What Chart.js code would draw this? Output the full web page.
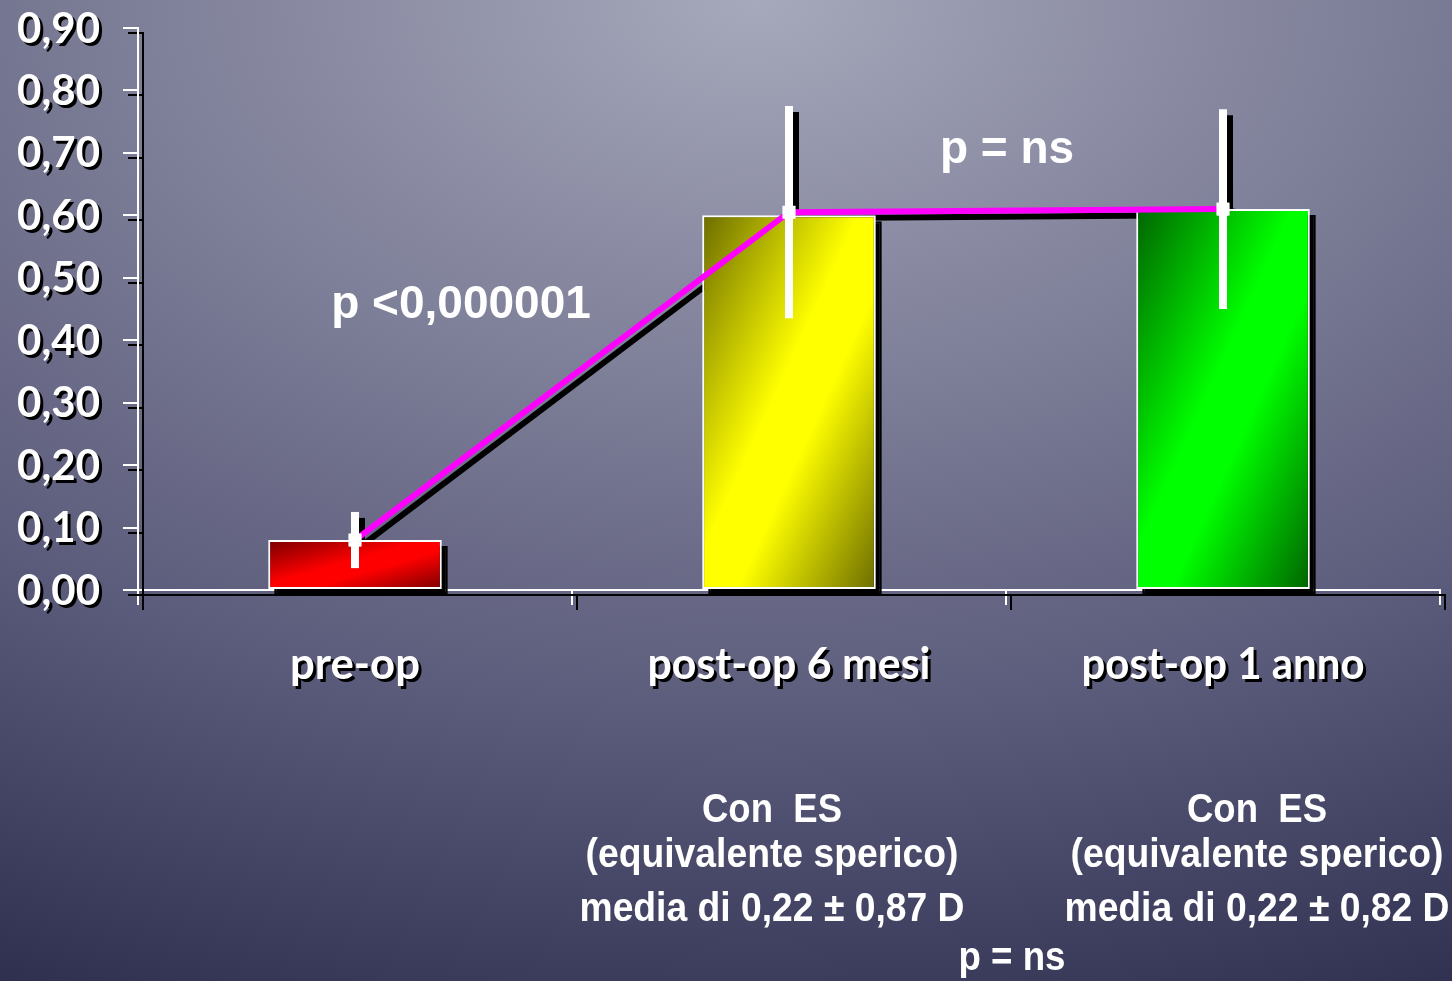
<!DOCTYPE html>
<html>
<head>
<meta charset="utf-8">
<title>Equivalente sferico</title>
<script src="https://cdn.jsdelivr.net/npm/chart.js@4.4.1/dist/chart.umd.min.js"></script>
<style>
  html, body {
    margin: 0;
    padding: 0;
    width: 1452px;
    height: 981px;
    overflow: hidden;
    background: radial-gradient(ellipse 125% 115% at 52% 0%, #a6a8bb 0%, #7f8099 33%, #5c5c7c 63%, #2a2a4a 100%);
  }
  #chart { display: block; }
</style>
</head>
<body>
<canvas id="chart" width="1452" height="981"></canvas>
<script>
// data
const categories = ['pre-op', 'post-op 6 mesi', 'post-op 1 anno'];
const barValues = [0.08, 0.60, 0.61];
const lineValues = [0.08, 0.605, 0.61];
const errValues = [0.045, 0.17, 0.16];
const yTicks = [0, 0.1, 0.2, 0.3, 0.4, 0.5, 0.6, 0.7, 0.8, 0.9];

const barDark = ['#780000', '#6c6c00', '#006400'];
const barBright = ['#ff0000', '#ffff00', '#00ff00'];

const notes = [
    { text: 'p <0,000001', x: 461, y: 318 },
    { text: 'p = ns', x: 1007, y: 163 }
];
const footLeft = ['Con  ES', '(equivalente sperico)', 'media di 0,22 \u00b1 0,87 D'];
const footRight = ['Con  ES', '(equivalente sperico)', 'media di 0,22 \u00b1 0,82 D'];
const footBottom = 'p = ns';

const BAR_PCT = 0.4;
const SHADOW = 6;

// diagonal gradient, isolines running bottom-left to top-right like the office chart
function barGradient(context) {
    const i = context.dataIndex;
    const chart = context.chart;
    const xs = chart.scales.x, ys = chart.scales.y;
    if (!xs || !ys || i === undefined) return barBright[i || 0];
    const cx = xs.getPixelForValue(i);
    const w = xs.width / categories.length * BAR_PCT;
    const top = ys.getPixelForValue(barValues[i]);
    const h = ys.getPixelForValue(0) - top;
    if (!(w > 0) || !(h > 0)) return barBright[i];
    const left = cx - w / 2;
    const k = 2 * w * h / (w * w + h * h);
    const g = chart.ctx.createLinearGradient(left, top, left + k * h, top + k * w);
    g.addColorStop(0, barDark[i]);
    g.addColorStop(0.45, barBright[i]);
    g.addColorStop(0.6, barBright[i]);
    g.addColorStop(1, barDark[i]);
    return g;
}

function drawErrorBars(chart) {
    const ctx = chart.ctx;
    const xs = chart.scales.x, ys = chart.scales.y;
    ctx.save();
    ctx.strokeStyle = '#ffffff';
    ctx.lineWidth = 8;
    ctx.lineCap = 'butt';
    for (let i = 0; i < categories.length; i++) {
        const x = xs.getPixelForValue(i);
        ctx.beginPath();
        ctx.moveTo(x, ys.getPixelForValue(lineValues[i] + errValues[i]));
        ctx.lineTo(x, ys.getPixelForValue(lineValues[i] - errValues[i]));
        ctx.stroke();
    }
    ctx.restore();
}

const shadowPlugin = {
    id: 'shadows',
    beforeDraw(chart) {
        // axes and tick marks get a plain offset shadow
        const ctx = chart.ctx;
        ctx.save();
        ctx.shadowColor = '#000000';
        ctx.shadowOffsetX = 5;
        ctx.shadowOffsetY = 5;
        ctx.shadowBlur = 0;
    },
    beforeDatasetsDraw(chart) {
        const ctx = chart.ctx;
        ctx.restore();
        // all data shadows first, then the marks on top
        ctx.save();
        ctx.translate(SHADOW, SHADOW);
        ctx.filter = 'brightness(0)';
        chart.getSortedVisibleDatasetMetas().slice().reverse().forEach(function(meta) {
            meta.controller.draw();
        });
        drawErrorBars(chart);
        ctx.restore();
    },
    afterDatasetsDraw(chart) {
        drawErrorBars(chart);
        const meta = chart.getDatasetMeta(1);
        meta.data.forEach(function(pt) { pt.draw(chart.ctx, chart.chartArea); });
    },
    afterDraw(chart) {
        const ctx = chart.ctx;
        const xs = chart.scales.x, ys = chart.scales.y;

        ctx.save();
        ctx.fillStyle = '#ffffff';
        ctx.shadowColor = '#000000';
        ctx.shadowOffsetX = 3;
        ctx.shadowOffsetY = 3;

        // y tick labels
        ctx.font = 'bold 42px Lato';
        ctx.textAlign = 'right';
        ctx.textBaseline = 'middle';
        yTicks.forEach(function(v) {
            ctx.fillText(v.toFixed(2).replace('.', ','), 100, ys.getPixelForValue(v) + 1);
        });

        // category labels
        ctx.font = 'bold 44px Lato';
        ctx.textAlign = 'center';
        ctx.textBaseline = 'alphabetic';
        categories.forEach(function(c, i) {
            ctx.fillText(c, xs.getPixelForValue(i), 679, c === 'pre-op' ? 130 : 283);
        });
        ctx.restore();

        // p-values and notes, no shadow
        ctx.save();
        ctx.fillStyle = '#ffffff';
        ctx.textAlign = 'center';
        ctx.font = 'bold 46px "Liberation Sans", Arial, sans-serif';
        notes.forEach(function(n) { ctx.fillText(n.text, n.x, n.y); });

        ctx.font = 'bold 40px "Liberation Sans", Arial, sans-serif';
        const rows = [822, 867, 921];
        const widths = [140, 373, 385];
        footLeft.forEach(function(t, i) { ctx.fillText(t, 772, rows[i], widths[i]); });
        footRight.forEach(function(t, i) { ctx.fillText(t, 1257, rows[i], widths[i]); });
        ctx.fillText(footBottom, 1012, 970, 107);
        ctx.restore();
    }
};

const ctx = document.getElementById('chart').getContext('2d');
const chart = new Chart(ctx, {
    type: 'bar',
    data: {
        labels: categories,
        datasets: [{
            type: 'bar',
            data: barValues,
            backgroundColor: barGradient,
            borderColor: '#ffffff',
            borderWidth: 2,
            borderSkipped: false,
            barPercentage: BAR_PCT,
            categoryPercentage: 1,
            order: 1,
            clip: false
        }, {
            type: 'line',
            data: lineValues,
            borderColor: '#ff00ff',
            borderWidth: 6,
            pointStyle: 'rect',
            pointRadius: 9,
            pointBackgroundColor: '#ffffff',
            pointBorderWidth: 0,
            tension: 0,
            order: 0,
            clip: false
        }]
    },
    options: {
        responsive: false,
        animation: false,
        layout: {
            padding: { left: 123, right: 12, top: 28, bottom: 376 }
        },
        plugins: {
            legend: { display: false },
            tooltip: { enabled: false }
        },
        scales: {
            x: {
                grid: {
                    offset: true,
                    drawOnChartArea: false,
                    drawTicks: true,
                    tickLength: 15,
                    color: '#ffffff',
                    lineWidth: 2
                },
                border: { display: true, color: '#ffffff', width: 2 },
                ticks: { display: false }
            },
            y: {
                min: 0,
                max: 0.9,
                grid: {
                    drawOnChartArea: false,
                    drawTicks: true,
                    tickLength: 15,
                    color: '#ffffff',
                    lineWidth: 2
                },
                border: { display: true, color: '#ffffff', width: 2 },
                ticks: { display: false, stepSize: 0.1 }
            }
        }
    },
    plugins: [shadowPlugin]
});
</script>
</body>
</html>
